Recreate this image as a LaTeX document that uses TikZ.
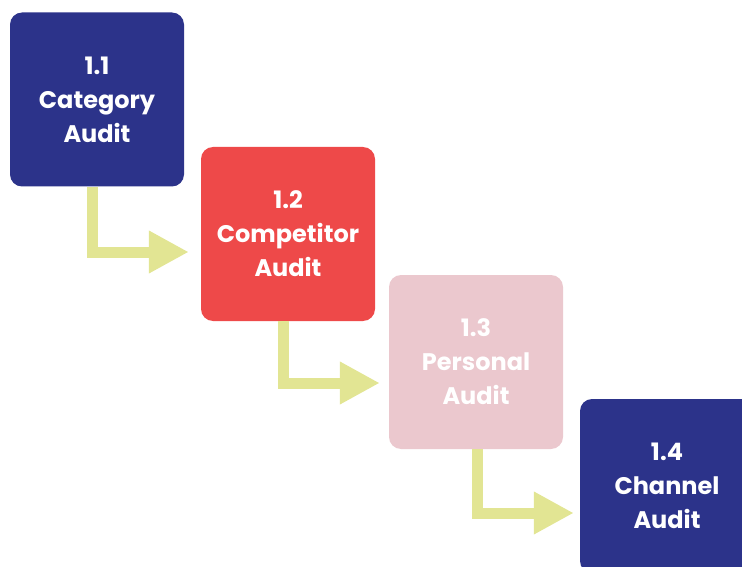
\documentclass[tikz,border=0pt]{standalone}
\usepackage{fontspec}
\setmainfont{Poppins}
\usepackage{tikz}
\usetikzlibrary{arrows.meta,positioning}

\definecolor{auditblue}{HTML}{2C338A}
\definecolor{auditred}{HTML}{EE4949}
\definecolor{auditpink}{HTML}{EBC8CE}
\definecolor{flowgreen}{HTML}{E2E593}

\tikzset{
    auditbox/.style={rectangle, rounded corners=12pt, minimum width=174pt, minimum height=174pt,
        inner sep=0pt, align=center, text=white, font={\fontsize{24}{34}\selectfont\bfseries}},
    flow/.style={draw=flowgreen, line width=11pt, -{Triangle[length=40pt,width=40pt]}}
}

\begin{document}
\begin{tikzpicture}[x=1pt,y=-1pt]
\clip (0,0) rectangle (742,567);

\node[auditbox, fill=auditblue] (b1) at (97,99.5) {1.1\\Category\\Audit};
\node[auditbox, fill=auditred]  (b2) at (288,234) {1.2\\Competitor\\Audit};
\node[auditbox, fill=auditpink] (b3) at (476,362) {1.3\\Personal\\Audit};
\node[auditbox, fill=auditblue] (b4) at (667,486) {1.4\\Channel\\Audit};

\foreach \a/\b/\dx/\dy/\gap in {b1/b2/-5/-18/12, b2/b3/-5/-21/9, b3/b4/1/-27/6}
    \draw[flow] ([xshift=\dx pt]\a.south) |- ([xshift=-\gap pt,yshift=\dy pt]\b.west);
\end{tikzpicture}
\end{document}
